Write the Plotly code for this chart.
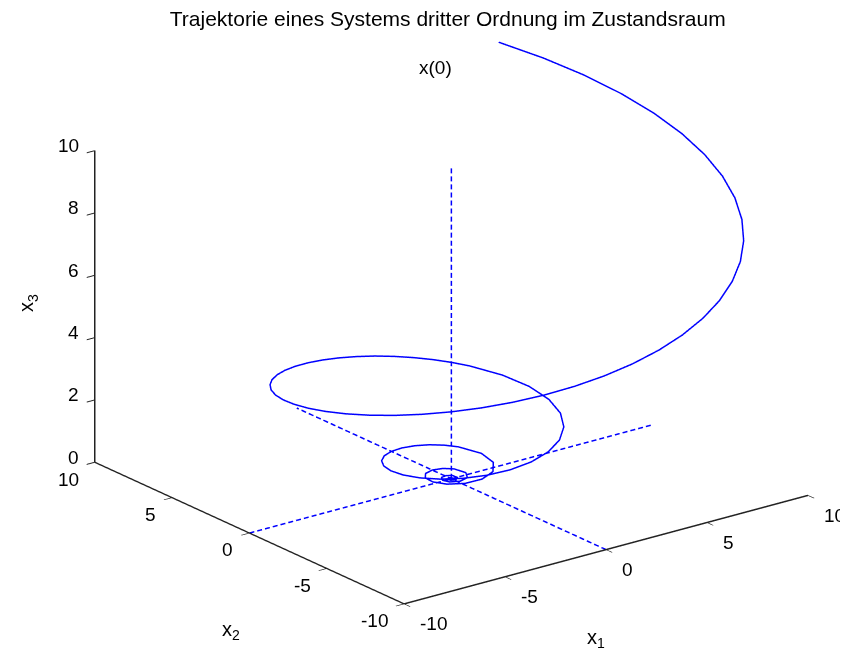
import numpy as np
import plotly.graph_objects as go

# ---- data ----
x1 = [10.000, 10.998, 11.769, 12.308, 12.615, 12.693, 12.551, 12.199, 11.650, 10.923,
      10.037, 9.014, 7.876, 6.647, 5.352, 4.016, 2.662, 1.316, 0.000, -1.265,
      -2.459, -3.564, -4.564, -5.448, -6.203, -6.823, -7.301, -7.635, -7.825, -7.874,
      -7.785, -7.567, -7.227, -6.776, -6.226, -5.592, -4.886, -4.123, -3.320, -2.491,
      -1.651, -0.816, 0.000, 0.785, 1.525, 2.210, 2.831, 3.379, 3.848,
      4.529, 4.854, 4.830, 4.483, 3.862,
      3.031, 2.059, 1.024, 0.000, -0.946, -1.756, -2.387, -2.809, -3.011, -2.996,
      -2.781, -2.396, -1.880, -1.277, -0.635, 0.000, 0.587, 1.089, 1.481,
      1.868, 1.725, 1.166, 0.394, -0.364, -0.918, -1.159, -1.070, -0.723, -0.245, 0.226, 0.570,
      0.715, 0.449, 0.000, -0.353, -0.444, -0.278, 0.000, 0.219,
      0.255, 0.058, -0.136, -0.158, -0.036, 0.084, 0.066, -0.052, -0.041, 0.032]
x2 = [10.000, 8.439, 6.795, 5.098, 3.380, 1.671, 0.000, -1.606, -3.122, -4.524,
      -5.795, -6.917, -7.876, -8.663, -9.270, -9.694, -9.936, -9.997, -9.885, -9.607,
      -9.176, -8.603, -7.906, -7.100, -6.203, -5.235, -4.215, -3.162, -2.097, -1.037,
      0.000, 0.996, 1.936, 2.807, 3.595, 4.291, 4.886, 5.373, 5.750, 6.014,
      6.163, 6.201, 6.132, 5.960, 5.692, 5.336, 4.904, 4.404, 3.848,
      2.615, 1.301, 0.000, -1.201, -2.230,
      -3.031, -3.567, -3.823, -3.804, -3.531, -3.042, -2.387, -1.622, -0.807, 0.000,
      0.745, 1.383, 1.880, 2.213, 2.372, 2.359, 2.190, 1.887, 1.481,
      0.500, -0.462, -1.166, -1.471, -1.359, -0.918, -0.310, 0.287, 0.723, 0.913, 0.843, 0.570,
      0.000, -0.449, -0.563, -0.353, 0.000, 0.278, 0.349, 0.219,
      -0.068, -0.218, -0.136, 0.042, 0.135, 0.084, -0.066, -0.052, 0.041, 0.032]
x3 = [10.000, 9.678, 9.367, 9.065, 8.773, 8.491, 8.217, 7.953, 7.697, 7.449,
      7.209, 6.977, 6.752, 6.535, 6.325, 6.121, 5.924, 5.733, 5.549, 5.370,
      5.197, 5.030, 4.868, 4.711, 4.560, 4.413, 4.271, 4.133, 4.000, 3.871,
      3.747, 3.626, 3.509, 3.396, 3.287, 3.181, 3.079, 2.980, 2.884, 2.791,
      2.701, 2.614, 2.530, 2.449, 2.370, 2.293, 2.220, 2.148, 2.079,
      1.947, 1.824, 1.708, 1.600, 1.499,
      1.404, 1.315, 1.232, 1.154, 1.081, 1.012, 0.948, 0.888, 0.832, 0.779,
      0.730, 0.683, 0.640, 0.600, 0.562, 0.526, 0.493, 0.462, 0.432,
      0.379, 0.333, 0.292, 0.256, 0.225, 0.197, 0.173, 0.152, 0.133, 0.117, 0.102, 0.090,
      0.074, 0.061, 0.050, 0.041, 0.034, 0.028, 0.023, 0.019,
      0.014, 0.011, 0.0085, 0.0066, 0.005, 0.004, 0.003, 0.002, 0.0015, 0.001]

x1_limits = [-10, 10]
x2_limits = [-10, 10]
x3_limits = [0, 10]
x1_ticks = [-10, -5, 0, 5, 10]
x2_ticks = [-10, -5, 0, 5, 10]
x3_ticks = [0, 2, 4, 6, 8, 10]
x1_ticktext = ["-10", "-5", "0", "5", "10"]
x2_ticktext = ["-10", "-5", "0", "5", "10"]
x3_ticktext = ["0", "2", "4", "6", "8", "10"]

title_text = "Trajektorie eines Systems dritter Ordnung im Zustandsraum"
start_label = "x(0)"
axis_labels = ["x<sub>1</sub>", "x<sub>2</sub>", "x<sub>3</sub>"]

BLUE = "#0000FF"
FONT = "Liberation Sans, Arial, sans-serif"
x1_span = [x1_limits[0], 12.75]   # the trajectory leaves the plot box slightly


def dashed(lo, hi, period, on):
    """Short-dash pattern along one coordinate axis (gaps separated by None)."""
    pts = []
    for s in np.arange(lo, hi, period):
        pts += [float(s), float(min(s + on, hi)), None]
    return pts


fig = go.Figure()

fig.add_trace(go.Scatter3d(x=x1, y=x2, z=x3, mode="lines",
                           line=dict(color=BLUE, width=3), hoverinfo="skip"))

# dashed coordinate axes through the origin
d1 = dashed(x1_limits[0], x1_limits[1], 0.385, 0.24)
d2 = dashed(x2_limits[0], x2_limits[1], 0.473, 0.296)
d3 = dashed(x3_limits[0], x3_limits[1], 0.258, 0.161)
fig.add_trace(go.Scatter3d(x=d1, y=[0 if v is not None else None for v in d1],
                           z=[0 if v is not None else None for v in d1], mode="lines",
                           connectgaps=False, line=dict(color=BLUE, width=3), hoverinfo="skip"))
fig.add_trace(go.Scatter3d(x=[0 if v is not None else None for v in d2], y=d2,
                           z=[0 if v is not None else None for v in d2], mode="lines",
                           connectgaps=False, line=dict(color=BLUE, width=3), hoverinfo="skip"))
fig.add_trace(go.Scatter3d(x=[0 if v is not None else None for v in d3],
                           y=[0 if v is not None else None for v in d3], z=d3, mode="lines",
                           connectgaps=False, line=dict(color=BLUE, width=3), hoverinfo="skip"))

# x1 axis line (front bottom edge)
fig.add_trace(go.Scatter3d(x=x1_limits, y=[x2_limits[0]] * 2, z=[x3_limits[0]] * 2,
                           mode="lines", line=dict(color="#222222", width=3), hoverinfo="skip"))

axis_common = dict(showbackground=False, showgrid=False, zeroline=False,
                   showspikes=False, ticks="outside", ticklen=10, tickwidth=2,
                   tickcolor="#222222", linecolor="#222222", linewidth=3,
                   showticklabels=False, autorange=False, tickmode="array",
                   title=dict(text=""))

k = 1.615
cam_center = dict(x=-0.1238, y=0.0844, z=-0.0221)
view_dir = (-0.5695, -0.7435, 0.3507)
dist = 3.0

lab_font = dict(family=FONT, size=20, color="black")
tick_font = dict(family=FONT, size=19, color="black")

annotations = [
    dict(x=x1[0], y=x2[0], z=x3[0], text=start_label, showarrow=False,
         xshift=-63, yshift=-25, font=dict(family=FONT, size=19, color="black")),
    dict(x=0, y=x2_limits[0], z=x3_limits[0], text=axis_labels[0], showarrow=False,
         xshift=-10, yshift=-89, font=lab_font),
    dict(x=x1_limits[0], y=0, z=x3_limits[0], text=axis_labels[1], showarrow=False,
         xshift=-18, yshift=-98, font=lab_font),
    dict(x=x1_limits[0], y=x2_limits[1], z=5, text=axis_labels[2], showarrow=False,
         xshift=-67, yshift=3, textangle=-90, font=lab_font),
]
for t, s in zip(x1_ticks, x1_ticktext):
    annotations.append(dict(x=t, y=x2_limits[0], z=x3_limits[0], text=s, showarrow=False,
                            xanchor="left", yanchor="middle", xshift=14, yshift=-20,
                            font=tick_font))
for t, s in zip(x2_ticks, x2_ticktext):
    annotations.append(dict(x=x1_limits[0], y=t, z=x3_limits[0], text=s, showarrow=False,
                            xanchor="right", yanchor="middle", xshift=-14, yshift=-17,
                            font=tick_font))
for t, s in zip(x3_ticks, x3_ticktext):
    annotations.append(dict(x=x1_limits[0], y=x2_limits[1], z=t, text=s, showarrow=False,
                            xanchor="right", yanchor="middle", xshift=-14, yshift=5,
                            font=tick_font))

fig.update_layout(
    width=848, height=654,
    margin=dict(l=0, r=0, t=0, b=0),
    paper_bgcolor="white",
    showlegend=False,
    title=dict(text=title_text, x=0.5186, xanchor="center", y=0.983, yanchor="middle",
               font=dict(family=FONT, size=21, color="black")),
    scene=dict(
        domain=dict(x=[0.0, 1.0], y=[0.037, 1.0]),
        xaxis=dict(axis_common, range=x1_span, tickvals=x1_ticks, showline=False),
        yaxis=dict(axis_common, range=x2_limits, tickvals=x2_ticks, showline=True),
        zaxis=dict(axis_common, range=x3_limits, tickvals=x3_ticks, showline=True),
        aspectmode="manual",
        aspectratio=dict(x=1.1375 * k, y=1.0 * k, z=0.654 * k),
        camera=dict(projection=dict(type="orthographic"),
                    up=dict(x=0, y=0, z=1),
                    center=cam_center,
                    eye=dict(x=cam_center["x"] + view_dir[0] * dist,
                             y=cam_center["y"] + view_dir[1] * dist,
                             z=cam_center["z"] + view_dir[2] * dist)),
        annotations=annotations,
    ),
)

fig.write_html("out.html")
